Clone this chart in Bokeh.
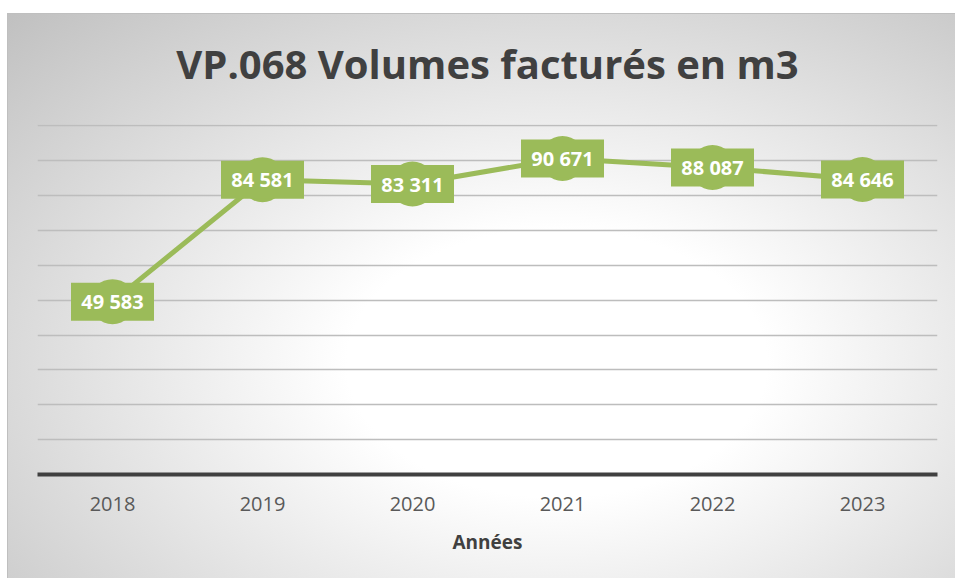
from bokeh.plotting import figure
from bokeh.models import FactorRange, Range1d, FixedTicker, ColumnDataSource
from bokeh.core.properties import value
from bokeh.embed import file_html
from bokeh.resources import INLINE

years = ["2018", "2019", "2020", "2021", "2022", "2023"]
volumes = [49583, 84581, 83311, 90671, 88087, 84646]
labels = [f"{v:,}".replace(",", " ") for v in volumes]
y_ticks = [10000, 20000, 30000, 40000, 50000, 60000, 70000, 80000, 90000, 100000]

GREEN = "#9BBB59"
FONT = "Open Sans"

src = ColumnDataSource(dict(x=years, y=volumes, label=labels))

p = figure(
    width=948, height=578,
    x_range=FactorRange(factors=years, range_padding=0),
    y_range=Range1d(0, 100400),
    output_backend="svg", toolbar_location=None,
    min_border_left=30, min_border_right=18,
    min_border_top=100, min_border_bottom=104,
    title="VP.068 Volumes facturés en m3",
)
p.margin = (0, 0, 0, 7)
p.background_fill_color = None
p.border_fill_color = None
p.outline_line_color = None
p.styles = {
    "background-image": ("linear-gradient(#ffffff,#ffffff), linear-gradient(#bfbfbf,#bfbfbf), "
                         "linear-gradient(#bfbfbf,#bfbfbf), "
                         "radial-gradient(ellipse at 58% 62%, #ffffff 0%, #ffffff 27%, #c0c0c0 100%)"),
    "background-size": "100% 13px, 100% 1px, 1px 100%, 100% 565px",
    "background-position": "0 0, 0 13px, 0 13px, 0 13px",
    "background-repeat": "no-repeat",
}

p.title.align = "center"
p.title.standoff = 67
p.title.text_font = FONT
p.title.text_font_style = "bold"
p.title.text_font_size = "40px"
p.title.text_color = "#404040"

p.line("x", "y", source=src, line_color=GREEN, line_width=5)
p.scatter("x", "y", source=src, size=45, marker="circle", fill_color=GREEN, line_color=None)
p.rect("x", "y", source=src, width=83, height=38, width_units="screen", height_units="screen",
       fill_color=GREEN, line_color=None)
p.text("x", "y", text="label", source=src, text_align="center", text_baseline="middle",
       text_color="white", text_font=value(FONT), text_font_style="bold", text_font_size="20px")

p.yaxis.visible = False
p.yaxis.ticker = FixedTicker(ticks=y_ticks)
p.ygrid.ticker = FixedTicker(ticks=y_ticks)
p.ygrid.grid_line_color = "#bdbdbd"
p.ygrid.grid_line_width = 1.5
p.xgrid.visible = False

xa = p.xaxis[0]
xa.axis_line_color = "#404040"
xa.axis_line_width = 4
xa.major_tick_line_color = None
xa.minor_tick_line_color = None
xa.major_label_text_font = FONT
xa.major_label_text_font_size = "20px"
xa.major_label_text_color = "#595959"
xa.major_label_standoff = 16
xa.axis_label = "Années"
xa.axis_label_text_font = FONT
xa.axis_label_text_font_style = "bold"
xa.axis_label_text_font_size = "19px"
xa.axis_label_text_color = "#404040"
xa.axis_label_standoff = 15

open("out.html", "w").write(file_html(p, INLINE))
